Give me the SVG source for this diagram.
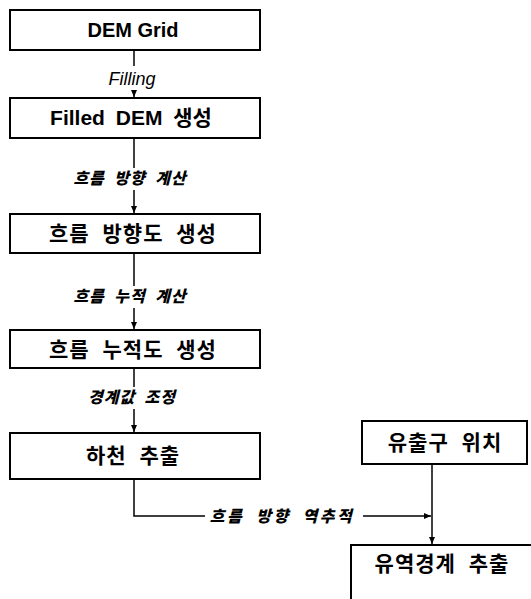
<svg xmlns="http://www.w3.org/2000/svg" width="531" height="599" viewBox="0 0 531 599">
<style>
.box{fill:#fff;stroke:#000;stroke-width:2}
.t{font-family:"Liberation Sans","Noto Sans CJK KR",sans-serif;font-size:20px;font-weight:bold;text-anchor:middle;fill:#000}
.k{font-size:21px;word-spacing:6px;letter-spacing:1px}
.f{font-size:21px;word-spacing:5px}
.l{font-family:"Liberation Sans","Noto Sans CJK KR",sans-serif;font-size:18px;font-style:italic;text-anchor:middle;fill:#000}
.lk{font-size:16px;font-weight:900;letter-spacing:1px;word-spacing:4px}
.w{letter-spacing:2.5px;word-spacing:5px}
.c{stroke:#000;stroke-width:1.5;fill:none}
</style>
<defs>
<marker id="ah" markerWidth="8" markerHeight="8" refX="7" refY="4" orient="auto" markerUnits="userSpaceOnUse">
<path d="M0,1 L7,4 L0,7 Z" fill="#000"/>
</marker>
</defs>
<rect width="531" height="599" fill="#fff"/>
<g id="connectors">
<path class="c" d="M134,50 V66"/>
<path class="c" d="M134,90 V97" marker-end="url(#ah)"/>
<path class="c" d="M134,138 V168"/>
<path class="c" d="M134,190 V213" marker-end="url(#ah)"/>
<path class="c" d="M134,253 V286"/>
<path class="c" d="M134,308 V329" marker-end="url(#ah)"/>
<path class="c" d="M134,368 V387"/>
<path class="c" d="M134,409 V432" marker-end="url(#ah)"/>
<path class="c" d="M134,479 V516 H205"/>
<path class="c" d="M363,516 H431" marker-end="url(#ah)"/>
<path class="c" d="M432,464 V544" marker-end="url(#ah)"/>
<text class="l" x="132" y="85">Filling</text>
<text class="l lk" x="130" y="184">흐름 방향 계산</text>
<text class="l lk" x="130" y="302">흐름 누적 계산</text>
<text class="l lk" x="132" y="403">경계값 조정</text>
<text class="l lk w" x="282" y="522">흐름 방향 역추적</text>
</g>
<g id="n1"><rect class="box" x="10" y="10" width="250" height="40"/><text class="t" x="133" y="37">DEM Grid</text></g>
<g id="n2"><rect class="box" x="10" y="98" width="250" height="40"/><text class="t f" x="131" y="125">Filled DEM 생성</text></g>
<g id="n3"><rect class="box" x="10" y="214" width="250" height="39"/><text class="t k" x="133" y="241">흐름 방향도 생성</text></g>
<g id="n4"><rect class="box" x="10" y="330" width="250" height="38"/><text class="t k" x="133" y="357">흐름 누적도 생성</text></g>
<g id="n5"><rect class="box" x="10" y="433" width="250" height="46"/><text class="t k" x="133" y="463">하천 추출</text></g>
<g id="n6"><rect class="box" x="362" y="421" width="165" height="43"/><text class="t k" x="445" y="450">유출구 위치</text></g>
<g id="n7"><rect class="box" x="351" y="545" width="200" height="70"/><text class="t k" x="442" y="571">유역경계 추출</text></g>
</svg>
